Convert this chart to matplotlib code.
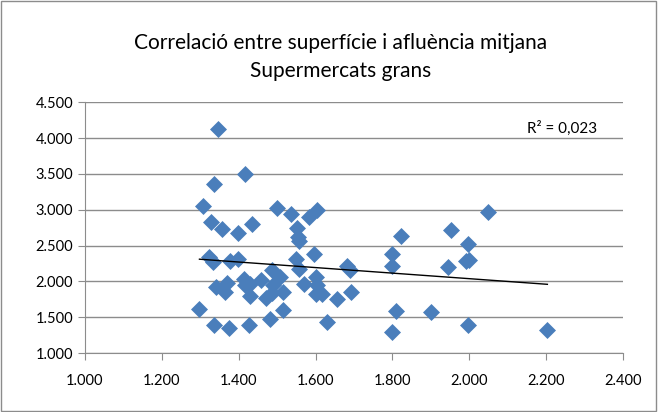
import numpy as np
import matplotlib
matplotlib.use("Agg")
import matplotlib.pyplot as plt
from matplotlib.ticker import FuncFormatter

# superficie (m2) i afluencia mitjana
superficie = [
    1345, 1417, 1335, 1307, 1500, 1535, 1583, 1603, 1328, 1357,
    1398, 1435, 1552, 1554, 1557, 1324, 1333, 1378, 1398, 1550,
    1596, 1557, 1340, 1370, 1364, 1413, 1430, 1429, 1457, 1487,
    1507, 1489, 1472, 1487, 1516, 1516, 1570, 1601, 1605, 1601,
    1617, 1298, 1335, 1374, 1426, 1481, 1630, 1683, 1690, 1657,
    1693, 1800, 1800, 1809, 1800, 1900, 1945, 1996, 1991, 2000,
    1996, 1822, 1951, 2048, 2203, 1417,
]
afluencia = [
    4128, 3497, 3361, 3054, 3022, 2942, 2897, 2989, 2827, 2729,
    2674, 2803, 2743, 2618, 2557, 2339, 2270, 2290, 2311, 2311,
    2385, 2172, 1920, 1976, 1851, 2032, 1967, 1799, 2013, 2162,
    2068, 1953, 1767, 1837, 1859, 1605, 1962, 2068, 1953, 1827,
    1827, 1616, 1395, 1349, 1395, 1475, 1427, 2208, 2152, 1753,
    1859, 2385, 2217, 1594, 1293, 1580, 2199, 2524, 2278, 2301,
    1395, 2636, 2710, 2975, 1325, 1953,
]

x = np.array(superficie)
y = np.array(afluencia)

fig = plt.figure(figsize=(6.58, 4.12), dpi=100)
ax = fig.add_axes([0.129, 0.143, 0.818, 0.609])

ax.scatter(x, y, marker="D", s=75, color="#4a7ebb", zorder=3, linewidths=0)

# linia de tendencia lineal
m, b = np.polyfit(x, y, 1)
xs = np.array([x.min(), x.max()])
ax.plot(xs, m * xs + b, color="black", lw=1, zorder=4)

ax.set_xlim(1000, 2400)
ax.set_ylim(1000, 4500)
ax.set_xticks(np.arange(1000, 2401, 200))
ax.set_yticks(np.arange(1000, 4501, 500))
fmt = FuncFormatter(lambda v, p: f"{v:,.0f}".replace(",", "."))
ax.xaxis.set_major_formatter(fmt)
ax.yaxis.set_major_formatter(fmt)

ax.grid(axis="y", color="#8c8c8c", lw=1)
ax.set_axisbelow(True)
for s in ["top", "right"]:
    ax.spines[s].set_visible(False)
for s in ["left", "bottom"]:
    ax.spines[s].set_color("#8c8c8c")
ax.tick_params(colors="#8c8c8c", labelcolor="black", labelsize=10.5, length=5)
ax.tick_params(axis="x", pad=10)

for lab in ax.get_xticklabels() + ax.get_yticklabels():
    lab.set_fontfamily("Lato")

ax.text(2240, 4140, "R² = 0,023", ha="center", va="center", fontsize=11, family="Lato")

fig.text(0.518, 0.895, "Correlació entre superfície i afluència mitjana",
         ha="center", va="center", fontsize=15, family="Lato")
fig.text(0.518, 0.828, "Supermercats grans",
         ha="center", va="center", fontsize=15, family="Lato")

# marc del grafic
fig.patches.append(plt.Rectangle((0.002, 0.003), 0.995, 0.994, transform=fig.transFigure,
                                 fill=False, edgecolor="#8c8c8c", lw=1))

fig.savefig("out.png", dpi=100)
